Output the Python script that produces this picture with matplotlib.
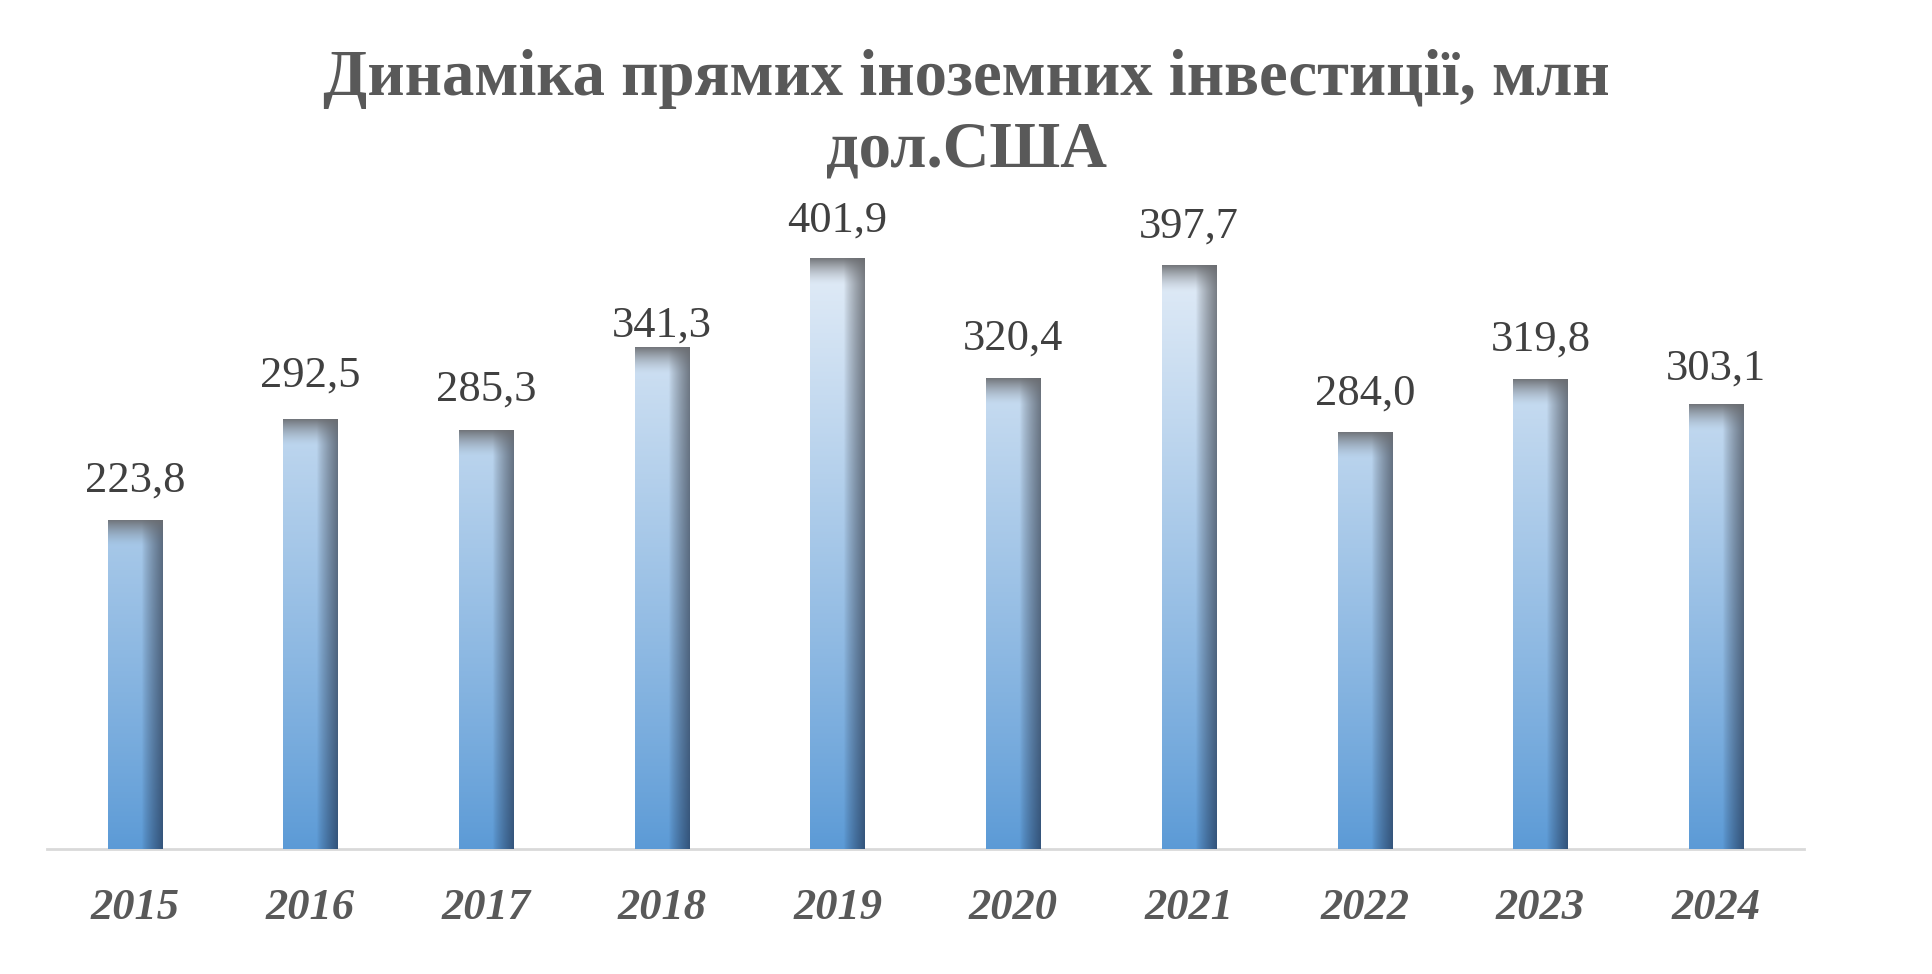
import numpy as np
import matplotlib.pyplot as plt

years = ['2015', '2016', '2017', '2018', '2019', '2020', '2021', '2022', '2023', '2024']
values = [223.8, 292.5, 285.3, 341.3, 401.9, 320.4, 397.7, 284.0, 319.8, 303.1]
labels = ['223,8', '292,5', '285,3', '341,3', '401,9', '320,4', '397,7', '284,0', '319,8', '303,1']

# label gap above each bar (the 2018 label sits lower in the original)
gaps = [27, 30, 28, 15, 26.5, 27, 26, 26.5, 27, 24.5]

fig = plt.figure(figsize=(19.33, 9.74), dpi=100)
ax = fig.add_axes([0.0243, 0.1283, 0.9090, 0.6783])

bottom_c = np.array([0x5b, 0x9a, 0xd6]) / 255
top_c = np.array([0xe2, 0xec, 0xf7]) / 255
dark_bot = np.array([0x2c, 0x48, 0x6c]) / 255
dark_top = np.array([0x6a, 0x6d, 0x72]) / 255
edge_c = np.array([0x6a, 0x6c, 0x70]) / 255

w = 0.31
for i, v in enumerate(values):
    nh, nw = 400, 60
    yy = np.linspace(v, 0, nh)[:, None]          # data y, top row first
    uu = np.linspace(0, 1, nw)[None, :]
    t = (yy / 400.0) ** 0.9
    base = bottom_c + (top_c - bottom_c) * t[..., None]
    dark = dark_bot + (dark_top - dark_bot) * t[..., None]
    d = np.clip((uu - 0.62) / 0.38, 0, 1) ** 0.8 * 0.85
    img = base * (1 - d[..., None]) + dark * d[..., None]
    # shade along the top edge
    e = np.clip(1 - (v - yy) / 18.0, 0, 1) ** 1.5 * 0.9
    img = img * (1 - e[..., None]) + edge_c * e[..., None]
    ax.imshow(np.clip(img, 0, 1), extent=(i - w / 2, i + w / 2, 0, v),
              aspect='auto', interpolation='bilinear', zorder=2)
    ax.text(i, v + gaps[i], labels[i], ha='center', va='center', fontsize=32,
            family='Liberation Serif', color='#404040')

ax.set_xlim(-0.5, 9.5)
ax.set_ylim(0, 450)
for s in ['top', 'right', 'left']:
    ax.spines[s].set_visible(False)
ax.spines['bottom'].set_color('#d9d9d9')
ax.spines['bottom'].set_linewidth(2)
ax.spines['bottom'].set_zorder(1)
ax.set_yticks([])
ax.set_xticks(range(len(years)))
ax.set_xticklabels(years, fontsize=32, family='Liberation Serif',
                   fontweight='bold', fontstyle='italic', color='#595959')
ax.tick_params(axis='x', length=0, pad=28)

fig.text(0.5, 0.882, 'Динаміка прямих іноземних інвестиції, млн\nдол.США',
         ha='center', va='center', fontsize=46.5, fontweight='bold',
         family='Liberation Serif', color='#595959', linespacing=1.25)

fig.savefig('out.png', dpi=100)
